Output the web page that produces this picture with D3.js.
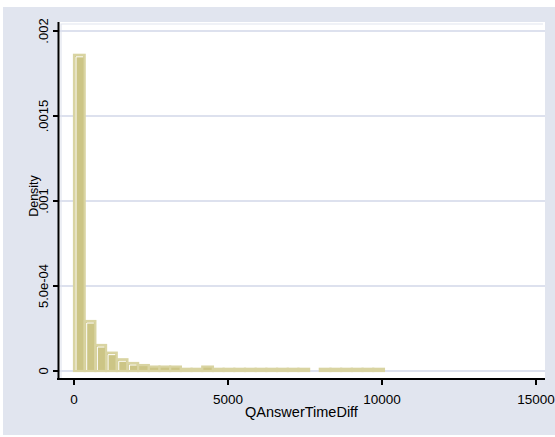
<!DOCTYPE html>
<html>
<head>
<meta charset="utf-8">
<script src="https://cdn.jsdelivr.net/npm/d3@7"></script>
<style>
  body { margin: 0; background: #fff; }
  svg { display: block; }
  text { font-family: "Liberation Sans", Arial, sans-serif; fill: #000; }
</style>
</head>
<body>
<div id="chart"></div>
<script>
// histogram of QAnswerTimeDiff, density scale
var binWidth = 347;
var density = [0.00186, 0.000294, 0.000153, 0.000108, 0.000069, 0.000047, 0.000035,
    0.000026, 0.000026, 0.000026, 0.000013, 0.000013, 0.000026, 0.000013, 0.000013,
    0.000013, 0.000013, 0.000013, 0.000013, 0.000013, 0.000013, 0.000013, 0,
    0.000013, 0.000013, 0.000013, 0.000013, 0.000013, 0.000013];
var xTicks = [0, 5000, 10000, 15000];
var yTicks = [0, 0.0005, 0.001, 0.0015, 0.002];
var yTickLabels = ["0", "5.0e-04", ".001", ".0015", ".002"];

var W = 555, H = 437;
var svg = d3.select("#chart").append("svg")
    .attr("width", W)
    .attr("height", H);

// outer graph region
svg.append("rect")
    .attr("x", 3).attr("y", 7)
    .attr("width", W - 3).attr("height", 428)
    .attr("fill", "#e1e5ef");

// plot region
svg.append("rect")
    .attr("x", 58).attr("y", 22)
    .attr("width", 487).attr("height", 357)
    .attr("fill", "#fff");

var x = d3.scaleLinear().domain([0, 15000]).range([74, 536]);
var y = d3.scaleLinear().domain([0, 0.002]).range([371, 31]);

// inner border of plot region
svg.append("path")
    .attr("d", "M61,379V24H543")
    .attr("fill", "none")
    .attr("stroke", "#e1e5ef")
    .attr("stroke-width", 1.2);

// gridlines
svg.selectAll(".grid")
    .data(yTicks)
    .enter().append("line")
    .attr("class", "grid")
    .attr("x1", 58).attr("x2", 545)
    .attr("y1", function(d) { return y(d); })
    .attr("y2", function(d) { return y(d); })
    .attr("stroke", "#dde1ee")
    .attr("stroke-width", 2);

var bins = density.map(function(d, i) { return { x0: i * binWidth, x1: (i + 1) * binWidth, d: d }; })
    .filter(function(b) { return b.d > 0; });

var bar = svg.selectAll(".bar")
    .data(bins)
    .enter().append("g")
    .attr("class", "bar");

bar.append("rect")
    .attr("x", function(b) { return x(b.x0); })
    .attr("y", function(b) { return y(b.d); })
    .attr("width", function(b) { return x(b.x1) - x(b.x0); })
    .attr("height", function(b) { return y(0) - y(b.d); })
    .attr("fill", "#ccc586")
    .attr("stroke", "#d9d4a2")
    .attr("stroke-width", 2.2);

// white highlight inside the left and top edge
bar.filter(function(b) { return y(0) - y(b.d) > 6; })
    .append("path")
    .attr("d", function(b) {
        var l = x(b.x0) + 2, t = y(b.d) + 2, r = x(b.x1) - 1.5;
        return "M" + l + "," + (y(0) - 1) + "V" + t + "H" + r;
    })
    .attr("fill", "none")
    .attr("stroke", "#fff")
    .attr("stroke-width", 1);

// y axis
svg.append("line")
    .attr("x1", 58.5).attr("x2", 58.5)
    .attr("y1", 22).attr("y2", 380)
    .attr("stroke", "#000").attr("stroke-width", 2);

svg.selectAll(".ytick")
    .data(yTicks)
    .enter().append("line")
    .attr("x1", 53).attr("x2", 58)
    .attr("y1", function(d) { return y(d); })
    .attr("y2", function(d) { return y(d); })
    .attr("stroke", "#000").attr("stroke-width", 2);

svg.selectAll(".ylab")
    .data(yTicks)
    .enter().append("text")
    .attr("transform", function(d) { return "translate(47.5," + y(d) + ") rotate(-90)"; })
    .attr("text-anchor", "middle")
    .style("font-size", "13px")
    .text(function(d, i) { return yTickLabels[i]; });

svg.append("text")
    .attr("transform", "translate(38,196) rotate(-90)")
    .attr("text-anchor", "middle")
    .style("font-size", "12.5px")
    .text("Density");

// x axis
svg.append("line")
    .attr("x1", 57).attr("x2", 545)
    .attr("y1", 379).attr("y2", 379)
    .attr("stroke", "#000").attr("stroke-width", 2);

svg.selectAll(".xtick")
    .data(xTicks)
    .enter().append("line")
    .attr("x1", function(d) { return x(d); })
    .attr("x2", function(d) { return x(d); })
    .attr("y1", 379).attr("y2", 385)
    .attr("stroke", "#000").attr("stroke-width", 2);

svg.selectAll(".xlab")
    .data(xTicks)
    .enter().append("text")
    .attr("x", function(d) { return x(d); })
    .attr("y", 404)
    .attr("text-anchor", "middle")
    .style("font-size", "13.5px")
    .text(function(d) { return d; });

svg.append("text")
    .attr("x", 301.5)
    .attr("y", 417)
    .attr("text-anchor", "middle")
    .style("font-size", "14.5px")
    .text("QAnswerTimeDiff");
</script>
</body>
</html>
